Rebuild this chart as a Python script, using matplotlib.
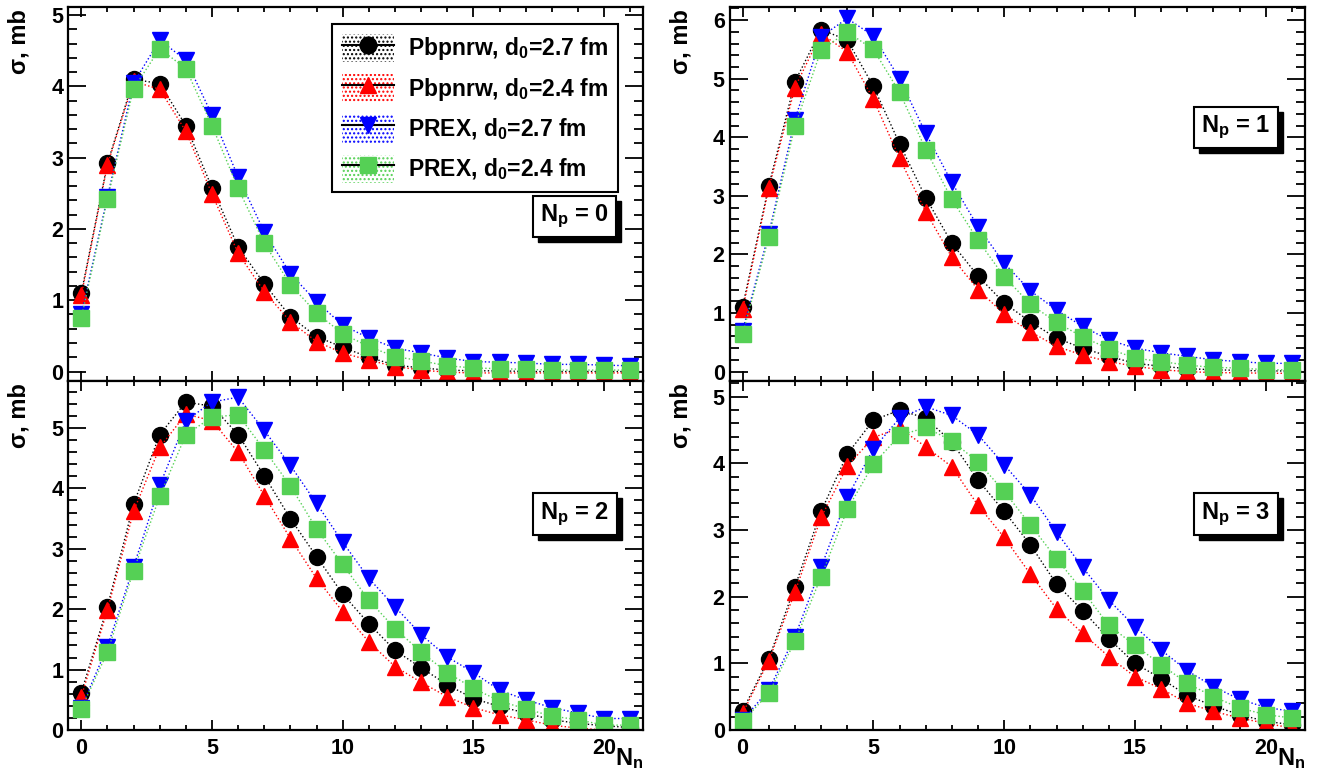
import matplotlib
matplotlib.use("Agg")
import matplotlib.pyplot as plt
from matplotlib.lines import Line2D
from matplotlib.patches import Patch, Rectangle
from matplotlib.ticker import MultipleLocator

plt.rcParams['font.family'] = ['Liberation Sans', 'DejaVu Sans']
plt.rcParams['font.weight'] = 'bold'
plt.rcParams['mathtext.fontset'] = 'custom'
plt.rcParams['mathtext.rm'] = 'Liberation Sans:bold'
plt.rcParams['mathtext.bf'] = 'Liberation Sans:bold'
plt.rcParams['mathtext.it'] = 'Liberation Sans:bold'
plt.rcParams['mathtext.default'] = 'rm'

nn = list(range(22))

# N_p = 0
np0_pb27 = [1.10, 2.92, 4.10, 4.04, 3.45, 2.58, 1.75, 1.23, 0.77, 0.49, 0.34, 0.20,
            0.09, 0.05, 0.02, 0.01, 0.01, 0.0, 0.0, 0.0, 0.0, 0.0]
np0_pb24 = [1.07, 2.90, 4.07, 3.96, 3.37, 2.49, 1.66, 1.12, 0.70, 0.42, 0.26, 0.16,
            0.07, 0.02, -0.01, -0.02, -0.02, -0.02, -0.02, -0.02, -0.02, -0.02]
np0_prex27 = [0.80, 2.45, 4.05, 4.65, 4.37, 3.60, 2.73, 1.96, 1.37, 0.98, 0.65, 0.47,
              0.33, 0.26, 0.19, 0.14, 0.13, 0.12, 0.10, 0.10, 0.09, 0.08]
np0_prex24 = [0.75, 2.42, 3.97, 4.53, 4.25, 3.45, 2.57, 1.80, 1.22, 0.82, 0.53, 0.35,
              0.21, 0.15, 0.08, 0.05, 0.04, 0.03, 0.02, 0.02, 0.02, 0.02]

# N_p = 1
np1_pb27 = [1.11, 3.17, 4.95, 5.84, 5.66, 4.87, 3.89, 2.97, 2.19, 1.63, 1.17, 0.85,
            0.57, 0.40, 0.26, 0.14, 0.09, 0.05, 0.03, 0.02, 0.01, 0.01]
np1_pb24 = [1.06, 3.13, 4.85, 5.77, 5.46, 4.65, 3.64, 2.73, 1.95, 1.40, 0.98, 0.68,
            0.43, 0.28, 0.17, 0.09, 0.03, 0.0, -0.02, -0.02, -0.03, -0.03]
np1_prex27 = [0.70, 2.35, 4.30, 5.72, 6.03, 5.73, 5.00, 4.07, 3.23, 2.47, 1.85, 1.38,
              1.05, 0.77, 0.54, 0.40, 0.32, 0.26, 0.20, 0.17, 0.14, 0.14]
np1_prex24 = [0.64, 2.29, 4.19, 5.49, 5.80, 5.50, 4.77, 3.79, 2.94, 2.24, 1.62, 1.15,
              0.84, 0.59, 0.39, 0.23, 0.17, 0.11, 0.07, 0.06, 0.03, 0.03]

# N_p = 2
np2_pb27 = [0.62, 2.04, 3.74, 4.89, 5.43, 5.36, 4.89, 4.21, 3.50, 2.87, 2.25, 1.76,
            1.32, 1.03, 0.75, 0.52, 0.39, 0.28, 0.17, 0.11, 0.07, 0.04]
np2_pb24 = [0.55, 1.99, 3.62, 4.68, 5.23, 5.12, 4.60, 3.88, 3.17, 2.51, 1.96, 1.46,
            1.05, 0.79, 0.55, 0.37, 0.25, 0.17, 0.08, 0.03, 0.0, -0.02]
np2_prex27 = [0.37, 1.38, 2.70, 4.05, 5.12, 5.43, 5.51, 4.96, 4.38, 3.75, 3.11, 2.51,
              2.04, 1.58, 1.21, 0.95, 0.66, 0.50, 0.37, 0.28, 0.19, 0.19]
np2_prex24 = [0.35, 1.29, 2.64, 3.87, 4.89, 5.18, 5.22, 4.64, 4.04, 3.33, 2.74, 2.15,
              1.68, 1.29, 0.95, 0.69, 0.48, 0.35, 0.23, 0.17, 0.08, 0.08]

# N_p = 3
np3_pb27 = [0.29, 1.07, 2.15, 3.28, 4.14, 4.65, 4.80, 4.68, 4.32, 3.75, 3.28, 2.78,
            2.19, 1.79, 1.37, 1.00, 0.77, 0.52, 0.36, 0.23, 0.13, 0.08]
np3_pb24 = [0.25, 1.04, 2.07, 3.19, 3.96, 4.39, 4.53, 4.25, 3.95, 3.37, 2.89, 2.34,
            1.82, 1.45, 1.10, 0.80, 0.62, 0.40, 0.28, 0.18, 0.10, 0.03]
np3_prex27 = [0.15, 0.60, 1.40, 2.44, 3.49, 4.22, 4.68, 4.85, 4.72, 4.43, 3.98, 3.53,
              2.97, 2.44, 1.95, 1.55, 1.20, 0.89, 0.65, 0.46, 0.34, 0.28]
np3_prex24 = [0.13, 0.55, 1.33, 2.30, 3.31, 3.99, 4.42, 4.54, 4.34, 4.02, 3.58, 3.08,
              2.57, 2.09, 1.57, 1.27, 0.98, 0.70, 0.50, 0.33, 0.23, 0.18]

series_labels = [r'Pbpnrw, d$_0$=2.7 fm', r'Pbpnrw, d$_0$=2.4 fm',
                 r'PREX, d$_0$=2.7 fm', r'PREX, d$_0$=2.4 fm']
colors = ['black', '#ff0000', '#0000ff', '#55d055']
markers = ['o', '^', 'v', 's']
msizes = [11.5, 12, 12, 11]

panels = [
    (r'N$_p$ = 0', [np0_pb27, np0_pb24, np0_prex27, np0_prex24], (-0.14, 5.11),
     [0.0515, 0.5052, 0.434, 0.4853], (0.881, 0.441)),
    (r'N$_p$ = 1', [np1_pb27, np1_pb24, np1_prex27, np1_prex24], (-0.17, 6.22),
     [0.5506, 0.5052, 0.4343, 0.4853], (0.880, 0.679)),
    (r'N$_p$ = 2', [np2_pb27, np2_pb24, np2_prex27, np2_prex24], (0.0, 5.77),
     [0.0515, 0.0532, 0.434, 0.452], (0.881, 0.620)),
    (r'N$_p$ = 3', [np3_pb27, np3_pb24, np3_prex27, np3_prex24], (0.0, 5.23),
     [0.5506, 0.0532, 0.4343, 0.452], (0.880, 0.620)),
]

fig = plt.figure(figsize=(13.25, 7.71), dpi=100)
boxes = []

for i, (title, data, ylim, pos, boxpos) in enumerate(panels):
    ax = fig.add_axes(pos)
    bottom_row = i >= 2
    for vals, c, m, ms in zip(data, colors, markers, msizes):
        ax.plot(nn, vals, ls=':', lw=1.0, color=c, marker=m, ms=ms,
                mfc=c, mec=c)
    ax.set_xlim(-0.5, 21.5)
    ax.set_ylim(*ylim)
    ax.xaxis.set_major_locator(MultipleLocator(5))
    ax.xaxis.set_minor_locator(MultipleLocator(1))
    ax.yaxis.set_major_locator(MultipleLocator(1))
    ax.yaxis.set_minor_locator(MultipleLocator(0.2))
    ax.tick_params(which='both', direction='in', top=True, right=True,
                   width=1.3, labelsize=15.5)
    ax.tick_params(axis='y', which='major', length=13)
    ax.tick_params(axis='y', which='minor', length=6.5)
    ax.tick_params(axis='x', which='major', length=7.5, pad=6)
    ax.tick_params(axis='x', which='minor', length=3.8)
    for sp in ax.spines.values():
        sp.set_linewidth(1.6)
    if not bottom_row:
        ax.tick_params(axis='x', labelbottom=False)
    else:
        ax.text(1.0, -0.045, r'N$_n$', transform=ax.transAxes, ha='right',
                va='top', fontsize=17)
    ax.text(-0.085, 0.995, 'σ, mb', transform=ax.transAxes, rotation=90,
            ha='center', va='top', fontsize=17)

    t = ax.text(boxpos[0], boxpos[1], title, transform=ax.transAxes, ha='center',
                va='center', fontsize=17, zorder=6,
                bbox=dict(boxstyle='square,pad=0.3', fc='white', ec='black', lw=1.5))
    boxes.append((ax, t))

    if i == 0:
        handles = []
        for c, m in zip(colors, markers):
            band = Patch(facecolor='white', edgecolor=c, hatch='....', lw=0)
            line = Line2D([0], [0], color='black', lw=1.5, marker=m, ms=12,
                          mfc=c, mec=c)
            handles.append((band, line))
        leg = ax.legend(handles, series_labels, loc='upper left',
                        bbox_to_anchor=(0.4586, 0.955), fontsize=16.5,
                        frameon=True, fancybox=False, framealpha=1,
                        edgecolor='black', handlelength=2.3, handleheight=1.5,
                        labelspacing=0.52, borderpad=0.42, handletextpad=0.6,
                        borderaxespad=0)
        leg.get_frame().set_linewidth(1.5)
        leg.set_zorder(10)

# shadows behind the N_p boxes, placed from the drawn box extents
fig.canvas.draw()
renderer = fig.canvas.get_renderer()
for ax, t in boxes:
    bb = t.get_bbox_patch().get_window_extent(renderer)
    inv = fig.transFigure.inverted()
    (x0, y0), (x1, y1) = inv.transform([(bb.x0 + 5, bb.y0 - 5), (bb.x1 + 5, bb.y1 - 5)])
    ax.add_artist(Rectangle((x0, y0), x1 - x0, y1 - y0, transform=fig.transFigure,
                            fc='black', ec='black', zorder=5, clip_on=False))

fig.savefig('out.png', dpi=100)
